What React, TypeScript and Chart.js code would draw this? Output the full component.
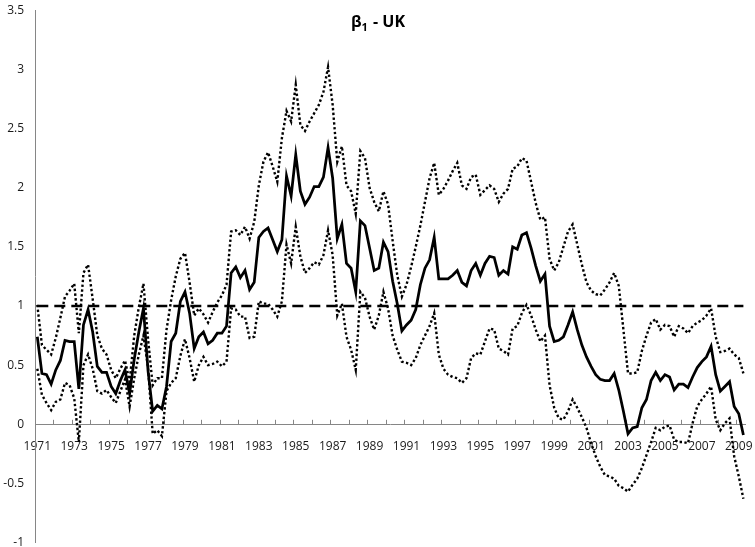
import React, { useEffect, useRef } from 'react';
import { Chart, registerables } from 'chart.js';

Chart.register(...registerables);

// ---------- data ----------
const START_YEAR = 1971;
const END_YEAR = 2009;
const LAST_QUARTER_OF_END_YEAR = 2;

const QUARTERS: string[] = [];
for (let y = START_YEAR; y <= END_YEAR; y++) {
  for (let q = 1; q <= 4; q++) {
    if (y === END_YEAR && q > LAST_QUARTER_OF_END_YEAR) break;
    QUARTERS.push(`${y}Q${q}`);
  }
}

// beta_1 estimate (solid line)
const BETA: number[] = [
  0.74, 0.43, 0.42, 0.34,
  0.46, 0.54, 0.71, 0.70,
  0.70, 0.30, 0.84, 0.97,
  0.78, 0.49, 0.44, 0.44,
  0.32, 0.26, 0.37, 0.46,
  0.26, 0.55, 0.78, 0.98,
  0.45, 0.11, 0.16, 0.13,
  0.32, 0.70, 0.77, 1.04,
  1.12, 0.94, 0.64, 0.74,
  0.78, 0.68, 0.71, 0.77,
  0.77, 0.83, 1.28, 1.33,
  1.24, 1.30, 1.14, 1.20,
  1.58, 1.63, 1.66, 1.56,
  1.46, 1.56, 2.10, 1.93,
  2.28, 1.97, 1.86, 1.92,
  2.01, 2.01, 2.09, 2.34,
  2.08, 1.57, 1.69, 1.36,
  1.32, 1.12, 1.72, 1.68,
  1.49, 1.30, 1.32, 1.54,
  1.46, 1.21, 1.02, 0.79,
  0.84, 0.88, 0.97, 1.18,
  1.32, 1.39, 1.58, 1.23,
  1.23, 1.23, 1.26, 1.30,
  1.20, 1.17, 1.30, 1.36,
  1.26, 1.36, 1.42, 1.41,
  1.26, 1.30, 1.27, 1.50,
  1.48, 1.60, 1.62, 1.49,
  1.34, 1.21, 1.27, 0.83,
  0.70, 0.71, 0.74, 0.84,
  0.95, 0.80, 0.67, 0.57,
  0.49, 0.42, 0.38, 0.37,
  0.37, 0.43, 0.29, 0.11,
  -0.08, -0.03, -0.02, 0.14,
  0.21, 0.37, 0.44, 0.37,
  0.42, 0.40, 0.29, 0.34,
  0.34, 0.31, 0.40, 0.48,
  0.53, 0.57, 0.66, 0.42,
  0.28, 0.32, 0.36, 0.15,
  0.09, -0.09,
];

// upper confidence band (dotted)
const UPPER: number[] = [
  1.01, 0.67, 0.63, 0.59,
  0.73, 0.90, 1.08, 1.13,
  1.19, 0.77, 1.28, 1.35,
  1.06, 0.75, 0.64, 0.59,
  0.46, 0.39, 0.47, 0.54,
  0.36, 0.75, 0.99, 1.19,
  0.72, 0.33, 0.39, 0.39,
  0.80, 1.05, 1.25, 1.40,
  1.45, 1.20, 0.92, 0.98,
  0.93, 0.86, 0.95, 1.03,
  1.09, 1.18, 1.63, 1.64,
  1.60, 1.67, 1.57, 1.71,
  2.02, 2.22, 2.30, 2.18,
  2.05, 2.42, 2.65, 2.56,
  2.87, 2.53, 2.48, 2.56,
  2.63, 2.70, 2.81, 3.02,
  2.70, 2.22, 2.35, 2.02,
  1.97, 1.78, 2.31, 2.25,
  2.00, 1.88, 1.80, 1.97,
  1.86, 1.55, 1.26, 1.08,
  1.18, 1.33, 1.50, 1.68,
  1.88, 2.08, 2.21, 1.94,
  1.99, 2.06, 2.14, 2.21,
  2.02, 1.99, 2.09, 2.11,
  1.94, 1.98, 2.02, 1.99,
  1.88, 1.95, 1.99, 2.16,
  2.18, 2.25, 2.23, 2.05,
  1.87, 1.73, 1.75, 1.40,
  1.30, 1.37, 1.50, 1.63,
  1.69, 1.52, 1.35, 1.20,
  1.13, 1.10, 1.09, 1.14,
  1.20, 1.28, 1.17, 0.80,
  0.43, 0.43, 0.44, 0.62,
  0.75, 0.86, 0.89, 0.80,
  0.84, 0.83, 0.74, 0.83,
  0.81, 0.77, 0.83, 0.86,
  0.88, 0.92, 0.98, 0.74,
  0.61, 0.62, 0.64, 0.59,
  0.56, 0.43,
];

// lower confidence band (dotted)
const LOWER: number[] = [
  0.47, 0.25, 0.18, 0.12,
  0.19, 0.21, 0.35, 0.33,
  0.22, -0.15, 0.50, 0.59,
  0.47, 0.28, 0.26, 0.29,
  0.23, 0.18, 0.28, 0.38,
  0.15, 0.39, 0.59, 0.75,
  0.48, -0.08, -0.05, -0.10,
  0.28, 0.35, 0.39, 0.58,
  0.72, 0.56, 0.36, 0.50,
  0.57, 0.50, 0.51, 0.53,
  0.49, 0.53, 0.98, 0.97,
  0.91, 0.91, 0.73, 0.74,
  1.04, 1.02, 1.02, 0.97,
  0.91, 1.04, 1.52, 1.36,
  1.67, 1.42, 1.28, 1.32,
  1.37, 1.35, 1.43, 1.64,
  1.43, 0.92, 1.02, 0.74,
  0.63, 0.46, 1.12, 1.07,
  0.91, 0.80, 0.92, 1.12,
  0.98, 0.75, 0.63, 0.53,
  0.52, 0.50, 0.56, 0.67,
  0.75, 0.83, 0.94, 0.59,
  0.47, 0.42, 0.40, 0.39,
  0.35, 0.39, 0.56, 0.60,
  0.59, 0.70, 0.81, 0.80,
  0.64, 0.62, 0.59, 0.81,
  0.83, 0.94, 1.01, 0.92,
  0.80, 0.70, 0.75, 0.33,
  0.14, 0.05, 0.04, 0.11,
  0.21, 0.14, 0.06, -0.03,
  -0.16, -0.27, -0.36, -0.43,
  -0.44, -0.46, -0.52, -0.54,
  -0.57, -0.51, -0.46, -0.37,
  -0.26, -0.15, -0.03, -0.05,
  -0.02, -0.01, -0.13, -0.15,
  -0.15, -0.16, 0.01, 0.15,
  0.21, 0.26, 0.32, 0.04,
  -0.05, 0.01, 0.05, -0.27,
  -0.44, -0.63,
];

const REF_LEVEL = 1;

const Y_MIN = -1;
const Y_MAX = 3.5;
const Y_STEP = 0.5;
const X_LABEL_EVERY = 8; // quarters between year labels
const X_TICK_EVERY = 4; // quarters between tick marks

const TITLE_MAIN = 'β';
const TITLE_SUB = '1';
const TITLE_REST = ' - UK';

// ---------- styles ----------
const AXIS_COLOR = '#868686';
const TEXT_COLOR = '#1a1a1a';
const FONT_FAMILY = '"Open Sans", "Liberation Sans", sans-serif';
const TICK_FONT_SIZE = 12;

const titlePlugin = {
  id: 'subscriptTitle',
  afterDraw(chart: any) {
    const ctx = chart.ctx;
    ctx.save();
    const big = `bold 16px ${FONT_FAMILY}`;
    const small = `bold 11px ${FONT_FAMILY}`;
    ctx.font = big;
    const w1 = ctx.measureText(TITLE_MAIN).width;
    const w3 = ctx.measureText(TITLE_REST).width;
    ctx.font = small;
    const w2 = ctx.measureText(TITLE_SUB).width;
    let x = chart.width / 2 - (w1 + w2 + w3) / 2;
    const base = 27;
    ctx.fillStyle = '#000';
    ctx.textAlign = 'left';
    ctx.textBaseline = 'alphabetic';
    ctx.font = big;
    ctx.fillText(TITLE_MAIN, x, base);
    x += w1;
    ctx.font = small;
    ctx.fillText(TITLE_SUB, x, base + 4);
    x += w2 + 1;
    ctx.font = big;
    ctx.fillText(TITLE_REST, x, base);
    ctx.restore();
  },
};

const innerTicksPlugin = {
  id: 'innerTicks',
  beforeDatasetsDraw(chart: any) {
    const xs = chart.scales.x;
    const ys = chart.scales.y;
    const ctx = chart.ctx;
    const y0 = ys.getPixelForValue(0);
    ctx.save();
    ctx.strokeStyle = AXIS_COLOR;
    ctx.lineWidth = 1;
    ctx.beginPath();
    for (let i = 0; i <= QUARTERS.length; i += X_TICK_EVERY) {
      const px = Math.round(xs.getPixelForValue(i - 0.5)) + 0.5;
      ctx.moveTo(px, y0);
      ctx.lineTo(px, y0 - 4.5);
    }
    ctx.stroke();
    ctx.restore();
  },
};

export default function App() {
  const canvasRef = useRef<HTMLCanvasElement | null>(null);

  useEffect(() => {
    if (!canvasRef.current) return;
    const chart = new Chart(canvasRef.current, {
      type: 'line',
      data: {
        labels: QUARTERS,
        datasets: [
          {
            label: 'beta',
            data: BETA,
            borderColor: '#000',
            borderWidth: 2.75,
            pointRadius: 0,
            tension: 0,
            fill: false,
          },
          {
            label: 'upper',
            data: UPPER,
            borderColor: '#000',
            borderWidth: 2.4,
            borderDash: [2.4, 2.4],
            pointRadius: 0,
            tension: 0,
            fill: false,
          },
          {
            label: 'lower',
            data: LOWER,
            borderColor: '#000',
            borderWidth: 2.4,
            borderDash: [2.4, 2.4],
            pointRadius: 0,
            tension: 0,
            fill: false,
          },
          {
            label: 'one',
            data: [
              { x: QUARTERS[0], y: REF_LEVEL },
              { x: QUARTERS[QUARTERS.length - 1], y: REF_LEVEL },
            ] as any,
            borderColor: '#000',
            borderWidth: 2.5,
            borderDash: [11, 6],
            pointRadius: 0,
            tension: 0,
            fill: false,
          },
        ],
      },
      options: {
        animation: false,
        responsive: false,
        events: [],
        layout: { padding: { left: 0, right: 9.3, top: 10.3, bottom: 4.4 } },
        plugins: {
          legend: { display: false },
          tooltip: { enabled: false },
          title: { display: false },
        },
        scales: {
          x: {
            type: 'category',
            offset: true,
            position: { y: 0 } as any,
            grid: { drawOnChartArea: false, drawTicks: false },
            border: { display: true, color: AXIS_COLOR, width: 1 },
            ticks: {
              autoSkip: false,
              maxRotation: 0,
              minRotation: 0,
              padding: 15,
              color: TEXT_COLOR,
              font: { family: FONT_FAMILY, size: TICK_FONT_SIZE },
              callback: (_v: any, idx: number) =>
                idx % X_LABEL_EVERY === 0 ? QUARTERS[idx].slice(0, 4) : '',
            },
            afterFit: (s: any) => {
              s.paddingLeft = 0;
              s.paddingRight = 0;
            },
          },
          y: {
            position: 'left',
            min: Y_MIN,
            max: Y_MAX,
            grid: { drawOnChartArea: false, drawTicks: false },
            border: { display: true, color: AXIS_COLOR, width: 1 },
            ticks: {
              stepSize: Y_STEP,
              padding: 11,
              color: TEXT_COLOR,
              font: { family: FONT_FAMILY, size: TICK_FONT_SIZE },
              callback: (v: any) => String(Number(Number(v).toFixed(2))),
            },
            afterFit: (s: any) => {
              s.width = 35;
              s.paddingTop = 0;
              s.paddingBottom = 0;
            },
          },
        },
      },
      plugins: [innerTicksPlugin, titlePlugin],
    });
    return () => chart.destroy();
  }, []);

  return (
    <div style={{ position: 'absolute', left: 0, top: 0, width: 755, height: 547, background: '#fff' }}>
      <canvas ref={canvasRef} width={755} height={547} />
    </div>
  );
}
